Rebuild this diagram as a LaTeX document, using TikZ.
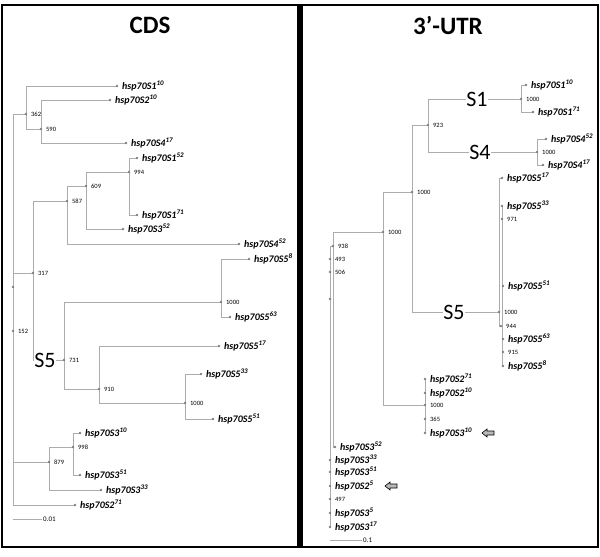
\documentclass[tikz,border=0pt]{standalone}
\usepackage{fontspec}
\setmainfont{Carlito}
\usepackage{tikz}

\tikzset{
  branch/.style={draw=gray!65, line width=1pt},
  tip/.style={fill=gray},
  leaf/.style={anchor=west, inner sep=0pt, xshift=5pt, font=\fontsize{10}{10}\selectfont\bfseries\itshape},
  boot/.style={anchor=west, inner sep=0pt, xshift=5pt, font=\fontsize{6.5}{7}\selectfont},
  clade/.style={fill=white, inner sep=0.5pt, font=\fontsize{22}{22}\selectfont},
  title/.style={font=\fontsize{25}{25}\selectfont\bfseries},
  pointer/.style={draw=black, fill=gray!55, line width=0.6pt}
}

\begin{document}
\begin{tikzpicture}[x=1pt,y=-1pt]
\useasboundingbox (0,0) rectangle (600,557);

% Panels
\draw[line width=2.2pt] (2,5) rectangle (298.5,547);
\draw[line width=2.2pt] (301.5,5) rectangle (598,547);
\node[title] (tcds) at (150,25) {CDS};
\node[title] (tutr) at (448,25) {3’-UTR};

% CDS tree: inner nodes
\coordinate (cR) at (13,287);
\coordinate (c152) at (13,331);
\coordinate (c362) at (26,114);
\coordinate (c590) at (41,129);
\coordinate (c317) at (33,273);
\coordinate (c587) at (67,201);
\coordinate (c609) at (86,186);
\coordinate (c994) at (129,172);
\coordinate (c731) at (64,360);
\coordinate (c1000a) at (221,302);
\coordinate (c910) at (99,389);
\coordinate (c1000b) at (185,403);
\coordinate (c879) at (49,462);
\coordinate (c998) at (73,447);

% CDS tree: tips
\coordinate (cS1x10) at (117,86);
\coordinate (cS2x10) at (110,100);
\coordinate (cS4x17) at (126,143);
\coordinate (cS1x52) at (137,158);
\coordinate (cS1x71) at (137,215);
\coordinate (cS3x52) at (123,229);
\coordinate (cS4x52) at (239,244);
\coordinate (cS5x8) at (249,259);
\coordinate (cS5x63) at (230,317);
\coordinate (cS5x17) at (219,346);
\coordinate (cS5x33) at (201,374);
\coordinate (cS5x51) at (213,419);
\coordinate (cS3x10) at (80,433);
\coordinate (cS3x51) at (80,475);
\coordinate (cS3x33) at (101,490);
\coordinate (cS2x71) at (75,505);

% CDS branches
\draw[branch] (cR) -- (c152);
\foreach \a/\b in {cR/c362, cR/cS2x71, c152/c317, c152/c879, c362/cS1x10, c362/c590,
    c590/cS2x10, c590/cS4x17, c317/c587, c317/c731, c587/c609, c587/cS4x52,
    c609/c994, c609/cS3x52, c994/cS1x52, c994/cS1x71, c731/c1000a, c731/c910,
    c1000a/cS5x8, c1000a/cS5x63, c910/cS5x17, c910/c1000b, c1000b/cS5x33,
    c1000b/cS5x51, c879/c998, c879/cS3x33, c998/cS3x10, c998/cS3x51}
    \draw[branch] (\a) |- (\b);

% CDS points
\foreach \p in {cR,c152,c362,c590,c317,c587,c609,c994,c731,c1000a,c910,c1000b,c879,c998,
    cS1x10,cS2x10,cS4x17,cS1x52,cS1x71,cS3x52,cS4x52,cS5x8,cS5x63,cS5x17,cS5x33,cS5x51,
    cS3x10,cS3x51,cS3x33,cS2x71}
    \fill[tip] (\p) circle (1.4);

% CDS bootstrap values
\node[boot] (bc362) at (c362) {362};
\node[boot] (bc590) at (c590) {590};
\node[boot] (bc317) at (c317) {317};
\node[boot] (bc152) at (c152) {152};
\node[boot] (bc587) at (c587) {587};
\node[boot] (bc609) at (c609) {609};
\node[boot] (bc994) at (c994) {994};
\node[boot] (bc731) at (c731) {731};
\node[boot] (bc1000a) at (c1000a) {1000};
\node[boot] (bc910) at (c910) {910};
\node[boot] (bc1000b) at (c1000b) {1000};
\node[boot] (bc879) at (c879) {879};
\node[boot] (bc998) at (c998) {998};

% CDS tip labels
\node[leaf] (lcS1x10) at (cS1x10) {hsp70S1\textsuperscript{10}};
\node[leaf] (lcS2x10) at (cS2x10) {hsp70S2\textsuperscript{10}};
\node[leaf] (lcS4x17) at (cS4x17) {hsp70S4\textsuperscript{17}};
\node[leaf] (lcS1x52) at (cS1x52) {hsp70S1\textsuperscript{52}};
\node[leaf] (lcS1x71) at (cS1x71) {hsp70S1\textsuperscript{71}};
\node[leaf] (lcS3x52) at (cS3x52) {hsp70S3\textsuperscript{52}};
\node[leaf] (lcS4x52) at (cS4x52) {hsp70S4\textsuperscript{52}};
\node[leaf] (lcS5x8) at (cS5x8) {hsp70S5\textsuperscript{8}};
\node[leaf] (lcS5x63) at (cS5x63) {hsp70S5\textsuperscript{63}};
\node[leaf] (lcS5x17) at (cS5x17) {hsp70S5\textsuperscript{17}};
\node[leaf] (lcS5x33) at (cS5x33) {hsp70S5\textsuperscript{33}};
\node[leaf] (lcS5x51) at (cS5x51) {hsp70S5\textsuperscript{51}};
\node[leaf] (lcS3x10) at (cS3x10) {hsp70S3\textsuperscript{10}};
\node[leaf] (lcS3x51) at (cS3x51) {hsp70S3\textsuperscript{51}};
\node[leaf] (lcS3x33) at (cS3x33) {hsp70S3\textsuperscript{33}};
\node[leaf] (lcS2x71) at (cS2x71) {hsp70S2\textsuperscript{71}};
\node[clade] (kcS5) at (45,360) {S5};

% CDS scale
\coordinate (cbarL) at (13,519);
\coordinate (cbarR) at (42,519);
\draw[branch] (cbarL) -- (cbarR);
\node[boot, xshift=-4pt, font=\fontsize{7}{7}\selectfont] (ccale) at (cbarR) {0.01};

% 3'-UTR tree: inner nodes
\coordinate (uR) at (330,299);
\coordinate (u938) at (333,246);
\coordinate (u493) at (330,259);
\coordinate (u506) at (330,272);
\coordinate (u497) at (330,499);
\coordinate (u1000a) at (383,232);
\coordinate (u1000b) at (412,192);
\coordinate (u923) at (428,125);
\coordinate (uS1) at (521,99);
\coordinate (uS4) at (537,152);
\coordinate (uS5) at (499,312);
\coordinate (u971) at (502,219);
\coordinate (u944) at (501,326);
\coordinate (u915) at (503,352);
\coordinate (u1000c) at (425,405);
\coordinate (u365) at (425,419);

% 3'-UTR tree: tips
\coordinate (uS1x10) at (526,85);
\coordinate (uS1x71) at (533,112);
\coordinate (uS4x52) at (546,139);
\coordinate (uS4x17) at (543,165);
\coordinate (uS5x17) at (502,178);
\coordinate (uS5x33) at (502,206);
\coordinate (uS5x51) at (503,286);
\coordinate (uS5x63) at (503,339);
\coordinate (uS5x8) at (503,366);
\coordinate (uS2x71) at (425,379);
\coordinate (uS2x10) at (425,393);
\coordinate (uS3x10) at (425,433);
\coordinate (uS3x52) at (335,447);
\coordinate (uS3x33) at (330,460);
\coordinate (uS3x51) at (330,472);
\coordinate (uS2x5) at (330,486);
\coordinate (uS3x5) at (330,513);
\coordinate (uS3x17) at (330,527);

% 3'-UTR branches
\foreach \a/\b in {uR/u938, uR/uS3x17, u938/u1000a, u938/uS3x52, u1000a/u1000b,
    u1000a/u1000c, u1000b/u923, u1000b/uS5, u923/uS1, u923/uS4, uS1/uS1x10,
    uS1/uS1x71, uS4/uS4x52, uS4/uS4x17, uS5/uS5x17, uS5/u944, u971/uS5x33,
    u971/uS5x8, u1000c/uS2x71, u1000c/uS3x10}
    \draw[branch] (\a) |- (\b);

% 3'-UTR points
\foreach \p in {uR,u938,u493,u506,u497,u1000a,u1000b,u923,uS1,uS4,uS5,u971,u944,u915,
    u1000c,u365,uS1x10,uS1x71,uS4x52,uS4x17,uS5x17,uS5x33,uS5x51,uS5x63,uS5x8,
    uS2x71,uS2x10,uS3x10,uS3x52,uS3x33,uS3x51,uS2x5,uS3x5,uS3x17}
    \fill[tip] (\p) circle (1.4);

% 3'-UTR bootstrap values
\node[boot] (bu938) at (u938) {938};
\node[boot] (bu493) at (u493) {493};
\node[boot] (bu506) at (u506) {506};
\node[boot] (bu497) at (u497) {497};
\node[boot] (bu1000a) at (u1000a) {1000};
\node[boot] (bu1000b) at (u1000b) {1000};
\node[boot] (bu923) at (u923) {923};
\node[boot] (buS1) at (uS1) {1000};
\node[boot] (buS4) at (uS4) {1000};
\node[boot] (buS5) at (uS5) {1000};
\node[boot] (bu971) at (u971) {971};
\node[boot] (bu944) at (u944) {944};
\node[boot] (bu915) at (u915) {915};
\node[boot] (bu1000c) at (u1000c) {1000};
\node[boot] (bu365) at (u365) {365};

% 3'-UTR tip labels
\node[leaf] (luS1x10) at (uS1x10) {hsp70S1\textsuperscript{10}};
\node[leaf] (luS1x71) at (uS1x71) {hsp70S1\textsuperscript{71}};
\node[leaf] (luS4x52) at (uS4x52) {hsp70S4\textsuperscript{52}};
\node[leaf] (luS4x17) at (uS4x17) {hsp70S4\textsuperscript{17}};
\node[leaf] (luS5x17) at (uS5x17) {hsp70S5\textsuperscript{17}};
\node[leaf] (luS5x33) at (uS5x33) {hsp70S5\textsuperscript{33}};
\node[leaf] (luS5x51) at (uS5x51) {hsp70S5\textsuperscript{51}};
\node[leaf] (luS5x63) at (uS5x63) {hsp70S5\textsuperscript{63}};
\node[leaf] (luS5x8) at (uS5x8) {hsp70S5\textsuperscript{8}};
\node[leaf] (luS2x71) at (uS2x71) {hsp70S2\textsuperscript{71}};
\node[leaf] (luS2x10) at (uS2x10) {hsp70S2\textsuperscript{10}};
\node[leaf] (luS3x10) at (uS3x10) {hsp70S3\textsuperscript{10}};
\node[leaf] (luS3x52) at (uS3x52) {hsp70S3\textsuperscript{52}};
\node[leaf] (luS3x33) at (uS3x33) {hsp70S3\textsuperscript{33}};
\node[leaf] (luS3x51) at (uS3x51) {hsp70S3\textsuperscript{51}};
\node[leaf] (luS2x5) at (uS2x5) {hsp70S2\textsuperscript{5}};
\node[leaf] (luS3x5) at (uS3x5) {hsp70S3\textsuperscript{5}};
\node[leaf] (luS3x17) at (uS3x17) {hsp70S3\textsuperscript{17}};
\node[clade] (kuS1) at (477,99) {S1};
\node[clade] (kuS4) at (480,152) {S4};
\node[clade] (kuS5) at (454,312) {S5};

% Arrows
\draw[pointer] (482,433) -- ++(5,-4) -- ++(0,2) -- ++(7,0) -- ++(0,4) -- ++(-7,0) -- ++(0,2) -- cycle;
\draw[pointer] (385,486) -- ++(5,-4) -- ++(0,2) -- ++(7,0) -- ++(0,4) -- ++(-7,0) -- ++(0,2) -- cycle;

% 3'-UTR scale
\coordinate (ubarL) at (330,540);
\coordinate (ubarR) at (362,540);
\draw[branch] (ubarL) -- (ubarR);
\node[boot, xshift=-4pt, font=\fontsize{7}{7}\selectfont] (uscale) at (ubarR) {0.1};
\end{tikzpicture}
\end{document}
